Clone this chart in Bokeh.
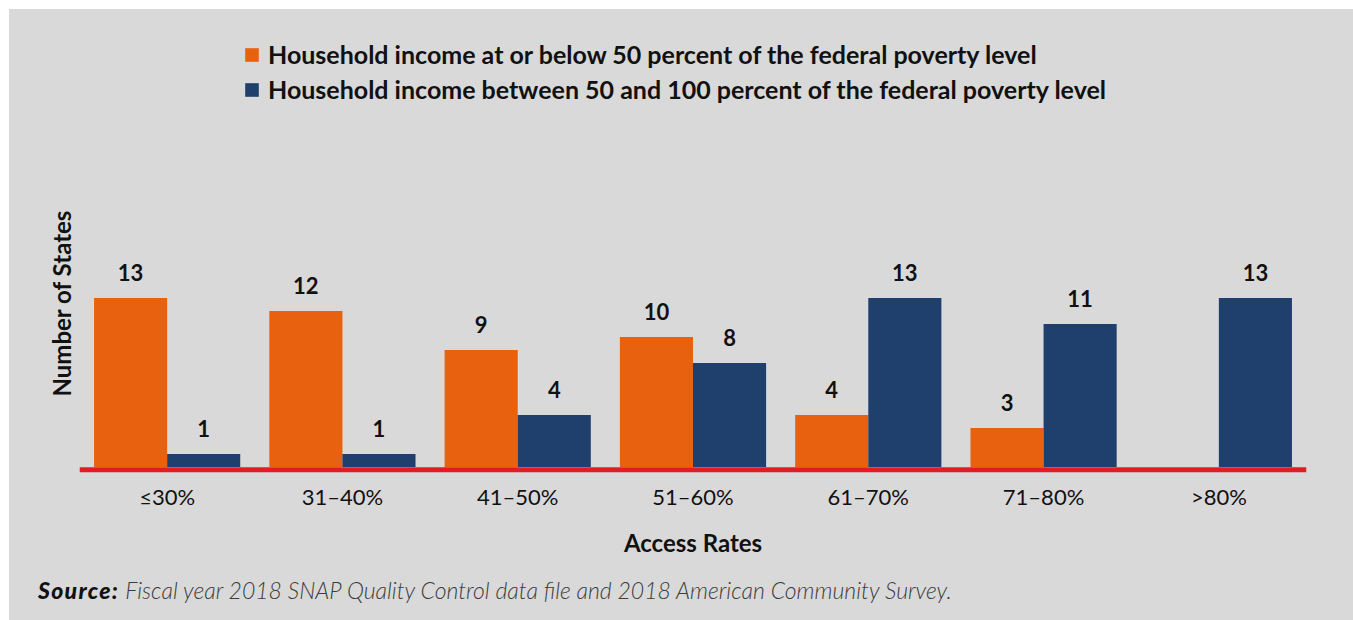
from bokeh.plotting import figure
from bokeh.models import (ColumnDataSource, FactorRange, Range1d, Legend, LegendItem,
                          LabelSet, Span, Title, Div)
from bokeh.layouts import column
from bokeh.transform import dodge
from bokeh.core.properties import value
from bokeh.embed import file_html
from bokeh.resources import INLINE

categories = ["≤30%", "31–40%", "41–50%", "51–60%", "61–70%", "71–80%", ">80%"]
below_50 = [13, 12, 9, 10, 4, 3, 0]
between_50_100 = [1, 1, 4, 8, 13, 11, 13]
series_names = ["Household income at or below 50 percent of the federal poverty level",
                "Household income between 50 and 100 percent of the federal poverty level"]
y_title = "Number of States"
x_title = "Access Rates"
source_head = "Source:"
source_body = "Fiscal year 2018 SNAP Quality Control data file and 2018 American Community Survey."

BG = "#d9d9d9"
ORANGE = "#e8610f"
NAVY = "#1f3f6d"
RED = "#e31b23"
FONT = "Lato"

src = ColumnDataSource(dict(
    cat=categories,
    a=below_50,
    b=between_50_100,
    a_txt=[str(v) if v > 0 else "" for v in below_50],
    b_txt=[str(v) if v > 0 else "" for v in between_50_100],
))

p = figure(width=1344, height=556, x_range=FactorRange(*categories),
           y_range=Range1d(-0.5, 35.19), output_backend="svg", toolbar_location=None,
           min_border_left=70, min_border_right=47, min_border_top=0, min_border_bottom=92)
p.margin = 0
p.styles = {"background-color": BG}
p.background_fill_color = BG
p.border_fill_color = BG
p.outline_line_color = None
p.grid.visible = False
p.yaxis.visible = False

off = 0.2085
w = 0.417
ra = p.vbar(x=dodge("cat", -off, range=p.x_range), top="a", bottom=0, width=w, source=src,
            fill_color=ORANGE, line_color=None)
rb = p.vbar(x=dodge("cat", off, range=p.x_range), top="b", bottom=0, width=w, source=src,
            fill_color=NAVY, line_color=None)

for col, txt, o in (("a", "a_txt", -off), ("b", "b_txt", off)):
    ls = LabelSet(x=dodge("cat", o, range=p.x_range), y=col, text=txt, source=src,
                  text_align="center", text_baseline="middle", y_offset=25,
                  text_font=value(FONT), text_font_style="bold", text_font_size="22px",
                  text_color="#111111")
    p.add_layout(ls)

p.add_layout(Span(location=-0.22, dimension="width", line_color=RED, line_width=5))

ax = p.xaxis[0]
ax.axis_line_color = None
ax.major_tick_line_color = None
ax.minor_tick_line_color = None
ax.major_label_text_font = FONT
ax.major_label_text_font_size = "22px"
ax.major_label_text_color = "#111111"
ax.major_label_standoff = 3
ax.axis_label = x_title
ax.axis_label_text_font = FONT
ax.axis_label_text_font_style = "bold"
ax.axis_label_text_font_size = "24px"
ax.axis_label_text_color = "#111111"
ax.axis_label_standoff = 15

legend = Legend(items=[LegendItem(label=series_names[0], renderers=[ra]),
                       LegendItem(label=series_names[1], renderers=[rb])],
                location=(164, 369), orientation="vertical")
legend.background_fill_alpha = 0
legend.border_line_color = None
legend.padding = 0
legend.margin = 0
legend.spacing = 5
legend.glyph_width = 17
legend.glyph_height = 17
legend.label_standoff = 8
legend.label_text_font = FONT
legend.label_text_font_style = "bold"
legend.label_text_font_size = "25px"
legend.label_text_color = "#111111"
p.add_layout(legend)

ytitle = Title(text=y_title, align="left", offset=77, standoff=7,
               text_font=FONT, text_font_style="bold", text_font_size="24px",
               text_color="#111111")
p.add_layout(ytitle, "left")

div = Div(text=(f'<span style="font-weight:900;font-style:italic;color:#111111;letter-spacing:1.3px">{source_head}</span>'
                f'<span style="font-weight:300;font-style:italic;color:#3c3c3c;margin-left:6px">{source_body}</span>'),
          width=1344, height=55, margin=0,
          styles={"background-color": BG, "font-family": FONT, "font-size": "23px",
                  "line-height": "50px", "padding-left": "29px", "box-sizing": "border-box",
                  "white-space": "nowrap"})

layout = column(p, div, spacing=0, margin=(9, 0, 0, 9), styles={"background-color": BG})

open("out.html", "w").write(file_html(layout, INLINE))
